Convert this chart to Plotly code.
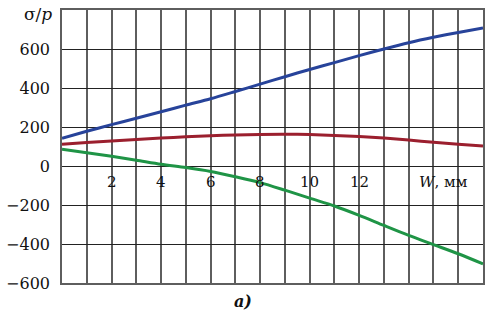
import plotly.graph_objects as go

W_mm = list(range(0, 18))
blue = [142, 178, 212, 245, 278, 312, 345, 382, 420, 458, 495, 530, 566, 600, 632, 660, 685, 708]
red = [112, 120, 128, 136, 143, 150, 155, 159, 162, 163, 161, 157, 151, 143, 133, 122, 112, 102]
green = [86, 68, 50, 30, 9, -8, -28, -55, -85, -124, -165, -205, -253, -305, -356, -403, -450, -502]

y_ticks = [-600, -400, -200, 0, 200, 400, 600]
y_tick_text = ["−600", "−400", "−200", "0", "200", "400", "600"]
x_label_vals = [2, 4, 6, 8, 10, 12]

FONT = "DejaVu Serif"

fig = go.Figure()
for ys, col in [(blue, "#27439a"), (red, "#9b1f2e"), (green, "#1f9446")]:
    fig.add_trace(go.Scatter(x=W_mm, y=ys, mode="lines",
                             line=dict(color=col, width=3, shape="spline", smoothing=0.8),
                             showlegend=False, hoverinfo="skip"))

for xv in x_label_vals:
    fig.add_annotation(x=xv, y=0, text=str(xv), showarrow=False, yanchor="top",
                       yshift=-5, font=dict(family=FONT, size=15, color="#111"))
fig.add_annotation(x=15.4, y=0, text="<i>W</i>, мм", showarrow=False, yanchor="top",
                   yshift=-5, font=dict(family=FONT, size=15, color="#111"))
fig.add_annotation(x=0, y=800, xref="x", yref="y", text="σ/<i>p</i>", showarrow=False,
                   xanchor="right", xshift=-8, yanchor="middle", yshift=-4,
                   font=dict(family=FONT, size=17, color="#111"))
fig.add_annotation(x=0.43, y=-0.025, xref="paper", yref="paper", text="<b><i>а)</i></b>",
                   showarrow=False, yanchor="top", xanchor="center",
                   font=dict(family=FONT, size=16, color="#111"))

fig.update_layout(
    width=493, height=313,
    margin=dict(l=62, r=10, t=10, b=30, autoexpand=False),
    plot_bgcolor="white", paper_bgcolor="white",
    font=dict(family=FONT, size=16, color="#111"),
)
fig.update_xaxes(range=[0, 17], dtick=1, tick0=0, showticklabels=False,
                 showgrid=True, gridcolor="#5e5e5e", gridwidth=1.5,
                 zeroline=False, showline=True, linecolor="#5e5e5e", linewidth=1.5,
                 mirror=True, ticks="", automargin=False)
fig.update_yaxes(range=[-600, 800], tickvals=y_ticks, ticktext=y_tick_text,
                 showgrid=True, gridcolor="#222", gridwidth=1,
                 zeroline=False, showline=True, linecolor="#5e5e5e", linewidth=1.5,
                 mirror=True, ticks="", ticklabelstandoff=7, automargin=False,
                 tickfont=dict(family=FONT, size=16, color="#111"))

# remove the default 8px page margin so the figure fills the window exactly
fig.write_html("out.html", config={"displayModeBar": False},
               post_script="document.body.style.margin='0';document.body.style.overflow='hidden';")
